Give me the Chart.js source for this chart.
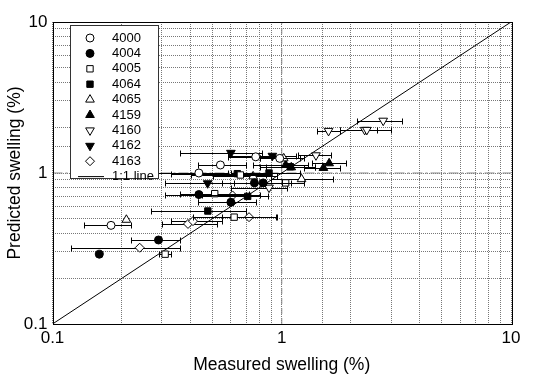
<!DOCTYPE html>
<html>
<head>
<meta charset="utf-8">
<script src="https://cdn.jsdelivr.net/npm/chart.js@4.4.0/dist/chart.umd.min.js"></script>
<style>
html, body { margin: 0; padding: 0; background: #fff; }
#wrap { width: 555px; height: 376px; }
</style>
</head>
<body>
<div id="wrap"><canvas id="myChart"></canvas></div>
<script>
const seriesNames = ["4000", "4004", "4005", "4064", "4065", "4159", "4160", "4162", "4163"];

// measured swelling (x), predicted swelling (y), and the x error bar ends
const measured = [
    [0.18, 0.435, 0.54, 0.77, 0.98],
    [0.16, 0.29, 0.435, 0.6, 0.76, 0.83],
    [0.31, 0.62, 0.51, 1.04, 0.66],
    [0.476, 0.71, 0.64, 0.88, 1.09],
    [0.21, 0.75, 1.02, 1.22],
    [1.61, 1.52, 1.04, 1.1],
    [2.77, 1.6, 2.3, 2.35, 1.41, 0.88],
    [0.6, 0.91, 0.475],
    [0.24, 0.39, 0.41, 0.61, 0.72],
];
const predicted = [
    [0.45, 1.0, 1.13, 1.28, 1.25],
    [0.29, 0.36, 0.72, 0.64, 0.86, 0.86],
    [0.29, 0.51, 0.73, 0.86, 0.97],
    [0.56, 0.7, 0.99, 1.0, 1.1],
    [0.49, 0.95, 1.25, 0.91],
    [1.16, 1.08, 1.13, 1.09],
    [2.22, 1.9, 1.93, 1.93, 1.31, 0.8],
    [1.36, 1.3, 0.855],
    [0.32, 0.46, 0.48, 0.71, 0.51],
];
const measuredLow = [
    [0.137, 0.28, 0.43, 0.58, 0.8],
    [null, 0.22, 0.31, 0.43, 0.55, 0.62],
    [0.29, 0.41, 0.36, 0.8, 0.4],
    [0.27, 0.43, 0.33, 0.6, 0.8],
    [null, 0.5, 0.8, 0.9],
    [1.35, 1.25, 0.75, 0.85],
    [2.13, 1.42, 1.8, 1.8, 1.18, 0.6],
    [0.36, 0.58, 0.31],
    [0.12, 0.3, 0.33, 0.45, 0.55],
];
const measuredHigh = [
    [0.22, 0.58, 0.7, 1.0, 1.2],
    [null, 0.36, 0.7, 0.77, 1.0, 1.1],
    [0.33, 0.94, 0.72, 1.25, 0.85],
    [0.7, 0.87, 0.9, 1.2, 1.4],
    [null, 0.95, 1.25, 1.67],
    [1.9, 1.8, 1.3, 1.4],
    [3.34, 1.8, 2.6, 3.0, 1.64, 1.05],
    [0.82, 1.15, 0.75],
    [0.36, 0.52, 0.55, 0.8, 0.95],
];
const axisRange = [0.1, 10];

// marker look per series
const markers = [
    { style: 'circle', fill: '#fff', r: 4, rot: 0 },
    { style: 'circle', fill: '#000', r: 4, rot: 0 },
    { style: 'rect', fill: '#fff', r: 4.5, rot: 0 },
    { style: 'rect', fill: '#000', r: 4.5, rot: 0 },
    { style: 'triangle', fill: '#fff', r: 5, rot: 0 },
    { style: 'triangle', fill: '#000', r: 5, rot: 0 },
    { style: 'triangle', fill: '#fff', r: 5, rot: 180 },
    { style: 'triangle', fill: '#000', r: 5, rot: 180 },
    { style: 'rectRot', fill: '#fff', r: 4.5, rot: 0 },
];

const datasets = seriesNames.map((name, i) => ({
    type: 'scatter',
    label: name,
    data: measured[i].map((x, j) => ({ x: x, y: predicted[i][j] })),
    lo: measuredLow[i],
    hi: measuredHigh[i],
    pointStyle: markers[i].style,
    pointRotation: markers[i].rot,
    pointRadius: markers[i].r,
    backgroundColor: markers[i].fill,
    borderColor: '#000',
    borderWidth: 1,
}));

// 1:1 line and the two reference lines at 1
datasets.push({
    type: 'line', label: '1:1 line',
    data: [{ x: axisRange[0], y: axisRange[0] }, { x: axisRange[1], y: axisRange[1] }],
    borderColor: '#000', borderWidth: 1, pointRadius: 0, fill: false,
});
datasets.push({
    type: 'line', label: 'x1',
    data: [{ x: 1, y: axisRange[0] }, { x: 1, y: axisRange[1] }],
    borderColor: '#888', borderWidth: 1, borderDash: [6, 4], pointRadius: 0, fill: false,
});
datasets.push({
    type: 'line', label: 'y1',
    data: [{ x: axisRange[0], y: 1 }, { x: axisRange[1], y: 1 }],
    borderColor: '#888', borderWidth: 1, borderDash: [10, 3, 2, 3], pointRadius: 0, fill: false,
});

const errorBars = {
    id: 'errorBars',
    beforeDatasetDraw(chart, args) {
        const ds = chart.data.datasets[args.index];
        if (!ds.lo) return;
        const ctx = chart.ctx;
        const xs = chart.scales.x, ys = chart.scales.y;
        ctx.save();
        ctx.strokeStyle = '#000';
        ctx.lineWidth = 1;
        ds.data.forEach((p, j) => {
            if (ds.lo[j] == null) return;
            const y = Math.round(ys.getPixelForValue(p.y)) + 0.5;
            const x1 = Math.round(xs.getPixelForValue(ds.lo[j])) + 0.5;
            const x2 = Math.round(xs.getPixelForValue(ds.hi[j])) + 0.5;
            ctx.beginPath();
            ctx.moveTo(x1, y); ctx.lineTo(x2, y);
            ctx.moveTo(x1, y - 3); ctx.lineTo(x1, y + 3);
            ctx.moveTo(x2, y - 3); ctx.lineTo(x2, y + 3);
            ctx.stroke();
        });
        ctx.restore();
    }
};

const frameAndLegend = {
    id: 'frameAndLegend',
    afterDraw(chart) {
        const ctx = chart.ctx;
        const a = chart.chartArea;
        ctx.save();
        ctx.strokeStyle = '#000';
        ctx.lineWidth = 1;
        ctx.strokeRect(Math.round(a.left) + 0.5, Math.round(a.top) + 0.5,
            Math.round(a.right - a.left), Math.round(a.bottom - a.top));

        // legend box
        const bx = 70.5, by = 25.5, bw = 88, bh = 153, row = 15.4;
        ctx.fillStyle = '#fff';
        ctx.fillRect(bx, by, bw, bh);
        ctx.strokeStyle = '#333';
        ctx.strokeRect(bx, by, bw, bh);
        ctx.font = '13px "Liberation Sans", Arial, sans-serif';
        ctx.textBaseline = 'middle';
        seriesNames.forEach((name, i) => {
            const y = by + 12.5 + i * row;
            ctx.fillStyle = markers[i].fill;
            ctx.strokeStyle = '#000';
            ctx.lineWidth = 1;
            Chart.helpers.drawPoint(ctx, {
                pointStyle: markers[i].style, rotation: markers[i].rot,
                radius: markers[i].r, borderWidth: 1
            }, 90, y);
            ctx.fillStyle = '#000';
            ctx.fillText(name, 112, y);
        });
        const ly = by + 12.5 + seriesNames.length * row;
        ctx.beginPath();
        ctx.strokeStyle = '#000';
        ctx.moveTo(78, ly); ctx.lineTo(104, ly);
        ctx.stroke();
        ctx.fillStyle = '#000';
        ctx.fillText('1:1 line', 112, ly);
        ctx.restore();
    }
};

const isDecade = v => Math.abs(Math.log10(v) - Math.round(Math.log10(v))) < 1e-6;
const decadeLabel = v => isDecade(v) ? String(Number(v.toPrecision(3))) : '';

const font = { family: '"Liberation Sans", Arial, sans-serif', size: 17 };

const config = {
    data: { datasets },
    options: {
        responsive: false,
        animation: false,
        layout: { padding: { top: 22, right: 44, left: 0, bottom: 0 } },
        plugins: { legend: { display: false }, tooltip: { enabled: false } },
        scales: {
            x: {
                type: 'logarithmic', position: 'bottom',
                min: axisRange[0], max: axisRange[1],
                afterFit: s => { s.height = 52; },
                grid: { color: '#777', lineWidth: 1, drawTicks: false },
                border: { display: false, dash: [1, 1] },
                ticks: { autoSkip: false, maxRotation: 0, padding: 4, color: '#000', font, callback: decadeLabel },
                title: { display: true, text: 'Measured swelling (%)', color: '#000', font: { ...font, size: 17.5 }, padding: { top: 0, bottom: 0 } },
            },
            y: {
                type: 'logarithmic', position: 'left',
                min: axisRange[0], max: axisRange[1],
                afterFit: s => { s.width = 52.5; },
                grid: { color: '#777', lineWidth: 1, drawTicks: false },
                border: { display: false, dash: [1, 1] },
                ticks: { autoSkip: false, padding: 5, color: '#000', font, callback: decadeLabel },
                title: { display: true, text: 'Predicted swelling (%)', color: '#000', font: { ...font, size: 17.5 }, padding: { top: 5, bottom: 0 } },
            },
        },
    },
    plugins: [errorBars, frameAndLegend],
};

const canvas = document.getElementById('myChart');
canvas.width = 555;
canvas.height = 376;
const myChart = new Chart(canvas.getContext('2d'), config);
</script>
</body>
</html>
